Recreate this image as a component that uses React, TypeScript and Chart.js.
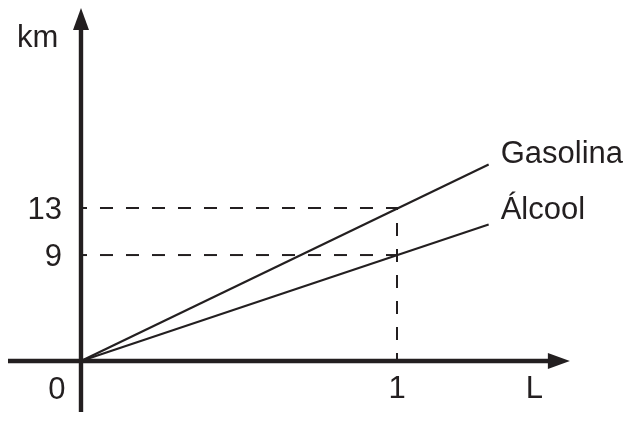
import React, { useEffect, useRef } from "react";
import { Chart, registerables } from "chart.js";

Chart.register(...registerables);

// ---- data ----
const LITERS = [0, 1.29];
const GASOLINA_KM = [0, 16.7];
const ALCOOL_KM = [0, 11.6];
const SERIES_NAMES = ["Gasolina", "Álcool"];
const MARK_LITER = 1;
const MARK_KM = [13, 9];
const Y_TICK_LABELS = ["13", "9"];
const X_TICK_LABELS = ["0", "1"];
const X_AXIS_TITLE = "L";
const Y_AXIS_TITLE = "km";

// ---- scale extents (data units) ----
const X_MIN = -0.2563;
const X_MAX = 1.7468;
const Y_MIN = -5.1;
const Y_MAX = 30.67;
const X_AXIS_FROM = -0.231;
const X_AXIS_TO = 1.547;
const Y_AXIS_FROM = -4.33;
const Y_AXIS_TO = 30.0;

const INK = "#231f20";
const FONT = "31px 'Liberation Sans', Arial, Helvetica, sans-serif";

const axesPlugin = {
  id: "arrowAxes",
  afterDatasetsDraw(chart: any) {
    const { ctx } = chart;
    const xs = chart.scales.x;
    const ys = chart.scales.y;
    const x0 = xs.getPixelForValue(0);
    const y0 = ys.getPixelForValue(0);
    const xTip = xs.getPixelForValue(X_AXIS_TO);
    const yTip = ys.getPixelForValue(Y_AXIS_TO);
    const arrowLen = 22;
    const arrowHalf = 8;
    ctx.save();
    ctx.strokeStyle = INK;
    ctx.fillStyle = INK;
    ctx.lineWidth = 4.4;
    ctx.lineCap = "butt";
    // x axis
    ctx.beginPath();
    ctx.moveTo(xs.getPixelForValue(X_AXIS_FROM), y0);
    ctx.lineTo(xTip - arrowLen + 2, y0);
    ctx.stroke();
    ctx.beginPath();
    ctx.moveTo(xTip, y0);
    ctx.lineTo(xTip - arrowLen, y0 - arrowHalf);
    ctx.lineTo(xTip - arrowLen, y0 + arrowHalf);
    ctx.closePath();
    ctx.fill();
    // y axis
    ctx.beginPath();
    ctx.moveTo(x0, ys.getPixelForValue(Y_AXIS_FROM));
    ctx.lineTo(x0, yTip + arrowLen - 2);
    ctx.stroke();
    ctx.beginPath();
    ctx.moveTo(x0, yTip);
    ctx.lineTo(x0 - arrowHalf, yTip + arrowLen);
    ctx.lineTo(x0 + arrowHalf, yTip + arrowLen);
    ctx.closePath();
    ctx.fill();
    ctx.restore();
  },
  afterDraw(chart: any) {
    const { ctx } = chart;
    const xs = chart.scales.x;
    const ys = chart.scales.y;
    const x0 = xs.getPixelForValue(0);
    const y0 = ys.getPixelForValue(0);
    ctx.save();
    ctx.fillStyle = INK;
    ctx.font = FONT;
    ctx.textBaseline = "alphabetic";
    // y tick labels
    ctx.textAlign = "right";
    MARK_KM.forEach((v, i) => {
      ctx.fillText(Y_TICK_LABELS[i], x0 - 19, ys.getPixelForValue(v) + 11);
    });
    // x tick labels
    ctx.textAlign = "center";
    ctx.fillText(X_TICK_LABELS[0], x0 - 24, y0 + 38);
    ctx.fillText(X_TICK_LABELS[1], xs.getPixelForValue(MARK_LITER), y0 + 37);
    // axis titles
    ctx.textAlign = "left";
    ctx.fillText(X_AXIS_TITLE, xs.getPixelForValue(X_AXIS_TO) - 44, y0 + 37);
    ctx.fillText(Y_AXIS_TITLE, x0 - 64, ys.getPixelForValue(Y_AXIS_TO) + 39);
    // series labels
    const gEnd = chart.getDatasetMeta(0).data[1];
    const aEnd = chart.getDatasetMeta(1).data[1];
    ctx.fillText(SERIES_NAMES[0], gEnd.x + 12, gEnd.y - 1);
    ctx.fillText(SERIES_NAMES[1], aEnd.x + 12, aEnd.y - 5);
    ctx.restore();
  },
};

export default function App() {
  const ref = useRef<HTMLCanvasElement | null>(null);
  useEffect(() => {
    if (!ref.current) return;
    const pts = (xsArr: number[], ysArr: number[]) =>
      xsArr.map((x, i) => ({ x, y: ysArr[i] }));
    const dashStyle = {
      borderColor: INK,
      borderWidth: 2,
      borderDash: [13, 13],
      borderDashOffset: 7,
      pointRadius: 0,
      fill: false,
      tension: 0,
    };
    const chart = new Chart(ref.current, {
      type: "line",
      data: {
        datasets: [
          {
            label: SERIES_NAMES[0],
            data: pts(LITERS, GASOLINA_KM),
            borderColor: INK,
            borderWidth: 2.2,
            pointRadius: 0,
            fill: false,
            tension: 0,
          },
          {
            label: SERIES_NAMES[1],
            data: pts(LITERS, ALCOOL_KM),
            borderColor: INK,
            borderWidth: 2.2,
            pointRadius: 0,
            fill: false,
            tension: 0,
          },
          {
            label: "ref13",
            data: [
              { x: 0, y: MARK_KM[0] },
              { x: MARK_LITER, y: MARK_KM[0] },
              { x: MARK_LITER, y: 0 },
            ],
            ...dashStyle,
          },
          {
            label: "ref9",
            data: [
              { x: 0, y: MARK_KM[1] },
              { x: MARK_LITER, y: MARK_KM[1] },
            ],
            ...dashStyle,
          },
        ],
      },
      options: {
        responsive: false,
        animation: false,
        devicePixelRatio: 1,
        layout: { padding: 0 },
        plugins: {
          legend: { display: false },
          tooltip: { enabled: false },
        },
        scales: {
          x: { type: "linear", min: X_MIN, max: X_MAX, display: false },
          y: { type: "linear", min: Y_MIN, max: Y_MAX, display: false },
        },
      },
      plugins: [axesPlugin],
    } as any);
    return () => chart.destroy();
  }, []);
  return (
    <div
      style={{
        position: "absolute",
        left: 0,
        top: 0,
        width: 633,
        height: 421,
        background: "#ffffff",
      }}
    >
      <canvas ref={ref} width={633} height={421} style={{ display: "block" }} />
    </div>
  );
}
